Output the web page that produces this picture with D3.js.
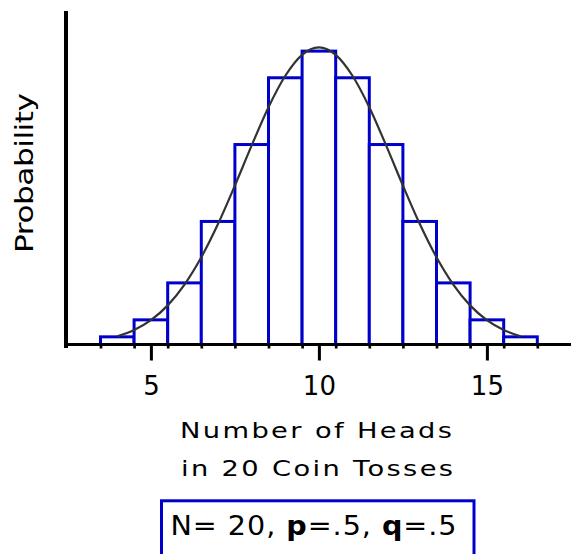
<!DOCTYPE html>
<html>
<head>
<meta charset="utf-8">
<script src="https://cdn.jsdelivr.net/npm/d3@7"></script>
<style>
  html, body { margin: 0; padding: 0; background: #fff; }
  svg { display: block; }
  text { font-family: "DejaVu Sans", Verdana, sans-serif; fill: #000; }
</style>
</head>
<body>
<svg id="chart" width="571" height="554"></svg>
<script>
// Binomial distribution of heads in 20 fair coin tosses
const heads = [4, 5, 6, 7, 8, 9, 10, 11, 12, 13, 14, 15, 16];
const probs = [0.0046, 0.0148, 0.0370, 0.0739, 0.1201, 0.1602, 0.1762,
               0.1602, 0.1201, 0.0739, 0.0370, 0.0148, 0.0046];

// Normal approximation curve (mean 10, sd ≈ 2.24), sampled every half head
const curveX = [4, 4.5, 5, 5.5, 6, 6.5, 7, 7.5, 8, 8.5, 9, 9.5, 10,
                10.5, 11, 11.5, 12, 12.5, 13, 13.5, 14, 14.5, 15, 15.5, 16];
const curveY = [0.0049, 0.0087, 0.0146, 0.0235, 0.0360, 0.0524, 0.0725, 0.0955,
                0.1196, 0.1425, 0.1614, 0.1740, 0.1784, 0.1740, 0.1614, 0.1425,
                0.1196, 0.0955, 0.0725, 0.0524, 0.0360, 0.0235, 0.0146, 0.0087, 0.0049];

const xTicks = [5, 10, 15];
const edgeTicks = [3.5, 4.5, 5.5, 6.5, 7.5, 8.5, 9.5, 10.5, 11.5, 12.5, 13.5, 14.5, 15.5, 16.5];

const BLUE = "#0000cc";
const svg = d3.select("#chart");

const x = d3.scaleLinear().domain([2.5, 17.5]).range([66.9, 570.9]);
const y = d3.scaleLinear().domain([0, 0.2]).range([344.5, 11.5]);
const base = y(0);

// Bars
svg.append("g")
  .selectAll("rect")
  .data(heads.map((h, i) => ({ h, p: probs[i] })))
  .join("rect")
  .attr("x", d => x(d.h - 0.5))
  .attr("width", d => x(d.h + 0.5) - x(d.h - 0.5))
  .attr("y", d => y(d.p))
  .attr("height", d => base - y(d.p))
  .attr("fill", "#fff")
  .attr("stroke", BLUE)
  .attr("stroke-width", 3);

// Normal curve
const line = d3.line()
  .x(d => x(d[0]))
  .y(d => y(d[1]))
  .curve(d3.curveMonotoneX);
svg.append("path")
  .datum(curveX.map((v, i) => [v, curveY[i]]))
  .attr("d", line)
  .attr("fill", "none")
  .attr("stroke", "#333")
  .attr("stroke-width", 2.2);

// Minor ticks at the bar edges
const minorAxis = svg.append("g")
  .attr("transform", `translate(0,${base})`)
  .call(d3.axisBottom(x).tickValues(edgeTicks).tickSize(4).tickFormat(""));
minorAxis.select(".domain").remove();
minorAxis.selectAll(".tick line").attr("stroke", "#000").attr("stroke-width", 2.7);

// Major ticks with labels
const majorAxis = svg.append("g")
  .attr("transform", `translate(0,${base})`)
  .call(d3.axisBottom(x).tickValues(xTicks).tickSize(16).tickFormat(d3.format("d")));
majorAxis.select(".domain").remove();
majorAxis.selectAll(".tick line").attr("stroke", "#000").attr("stroke-width", 3);
majorAxis.selectAll(".tick text")
  .attr("y", 50.5)
  .attr("dy", 0)
  .style("font-family", "'DejaVu Sans', sans-serif")
  .style("font-size", "26px")
  .attr("fill", "#000");

// Axis lines
svg.append("line")
  .attr("x1", 64).attr("x2", 571)
  .attr("y1", base).attr("y2", base)
  .attr("stroke", "#000").attr("stroke-width", 3);
svg.append("line")
  .attr("x1", 66).attr("x2", 66)
  .attr("y1", y(0.2) - 0.5).attr("y2", base + 3.5)
  .attr("stroke", "#000").attr("stroke-width", 4);

// Axis titles (glyphs stretched along the baseline for a wide face)
const WIDE = 1.3;
svg.append("text")
  .attr("transform", `translate(33,173) rotate(-90) scale(${WIDE},1)`)
  .attr("text-anchor", "middle")
  .attr("textLength", 160 / WIDE)
  .attr("lengthAdjust", "spacing")
  .style("font-size", "24px")
  .text("Probability");

svg.append("text")
  .attr("transform", `translate(316,437.5) scale(${WIDE},1)`)
  .attr("text-anchor", "middle")
  .attr("textLength", 272 / WIDE)
  .attr("lengthAdjust", "spacing")
  .style("font-size", "21px")
  .text("Number of Heads");
svg.append("text")
  .attr("transform", `translate(317,476) scale(${WIDE},1)`)
  .attr("text-anchor", "middle")
  .attr("textLength", 272 / WIDE)
  .attr("lengthAdjust", "spacing")
  .style("font-size", "21px")
  .text("in 20 Coin Tosses");

// Parameter box
svg.append("rect")
  .attr("x", 161.5).attr("y", 500.8)
  .attr("width", 312.5).attr("height", 80)
  .attr("fill", "none")
  .attr("stroke", BLUE)
  .attr("stroke-width", 3);

const params = svg.append("text")
  .attr("transform", "translate(170.5,535) scale(1.1,1)")
  .attr("textLength", 286 / 1.1)
  .attr("lengthAdjust", "spacing")
  .style("font-size", "26px");
params.append("tspan").text("N= 20, ");
params.append("tspan").style("font-weight", "bold").text("p");
params.append("tspan").text("=.5, ");
params.append("tspan").style("font-weight", "bold").text("q");
params.append("tspan").text("=.5");
</script>
</body>
</html>
